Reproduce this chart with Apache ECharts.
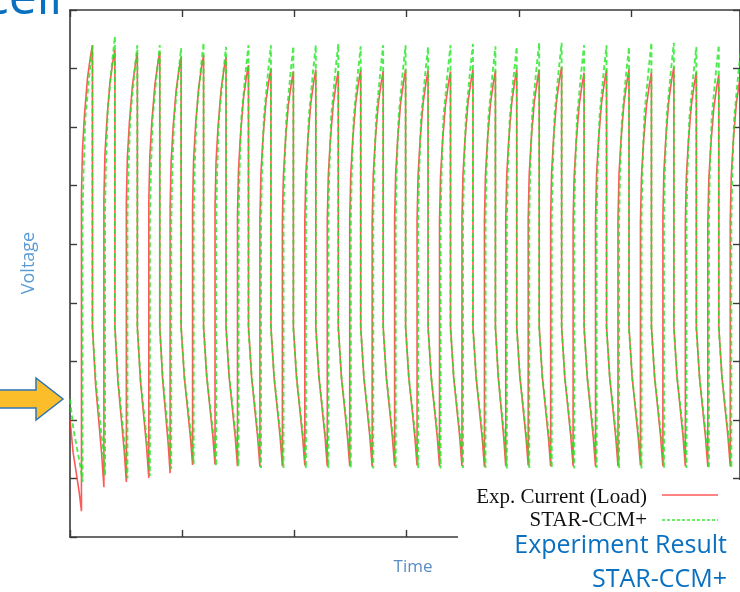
<!DOCTYPE html>
<html><head><meta charset="utf-8">
<script src="https://cdn.jsdelivr.net/npm/echarts/dist/echarts.min.js"></script>
<style>html,body{margin:0;padding:0;background:#fff}#c{width:740px;height:592px}</style>
</head><body><div id="c"></div>
<script>
// ---- data (time in x-axis units, voltage in y-axis units) ----
const peakTimes = [0.20,0.40,0.60,0.80,0.99,1.19,1.39,1.59,1.79,1.99,2.19,2.39,2.59,2.79,2.99,3.19,3.39,3.59,3.79,3.98,4.18,4.38,4.58,4.78,4.98,5.18,5.38,5.58,5.78,5.98];
const redPeaks   = [8.40,8.32,8.27,8.28,8.20,8.23,8.20,8.06,8.00,7.95,7.98,7.96,7.98,7.95,7.98,7.97,7.95,7.98,7.96,7.98,7.98,8.03,7.93,7.98,7.98,7.93,8.03,7.94,7.89,7.95];
const greenPeaks = [8.40,8.55,8.40,8.40,8.35,8.44,8.37,8.40,8.40,8.38,8.40,8.42,8.38,8.40,8.40,8.37,8.40,8.42,8.38,8.37,8.44,8.44,8.40,8.40,8.37,8.44,8.44,8.37,8.40,8.38];
// minimum reached before each rise (first entry: before the first pulse)
const redMins    = [0.44,0.85,0.94,1.01,1.09,1.23,1.24,1.21,1.20,1.21,1.22,1.21,1.21,1.20,1.21,1.22,1.21,1.21,1.20,1.21,1.22,1.21,1.21,1.20,1.21,1.22,1.21,1.21,1.20,1.21];
const greenMins  = [0.94,1.05,1.00,1.04,1.16,1.25,1.21,1.21,1.18,1.18,1.17,1.18,1.18,1.17,1.18,1.18,1.17,1.18,1.18,1.17,1.18,1.18,1.17,1.18,1.18,1.17,1.18,1.18,1.17,1.18];
const redStart = 2.01, greenStart = 2.35;
const redDropBottom = 3.60, greenDropBottom = 3.55;
const redRiseLead = 0.098, greenRiseLead = 0.088;
// shape of the rising branch: [time before peak, voltage below peak]
const redRiseShape   = [[-0.098,2.56],[-0.089,1.79],[-0.071,1.19],[-0.044,0.56],[-0.018,0.20],[0,0]];
const greenRiseShape = [[-0.088,2.98],[-0.080,2.18],[-0.063,1.23],[-0.024,0.43],[0,0]];
// shape of the relaxing branch: [fraction of the interval, fraction of the way to the minimum]
const decayShape = [[0.27,0.36],[0.53,0.57],[0.80,0.79]];

function build(start, mins, peaks, riseShape, dropBottom, lead) {
  const pts = [[0, start]];
  const t0 = peakTimes[0] - lead;
  decayShape.forEach(([d, f]) => pts.push([d * t0, start + f * (mins[0] - start)]));
  pts.push([t0, mins[0]]);
  for (let k = 0; k < peakTimes.length; k++) {
    const tp = peakTimes[k];
    riseShape.forEach(([d, o]) => pts.push([tp + d, peaks[k] - o]));
    if (k + 1 < peakTimes.length) {
      const tn = peakTimes[k + 1] - lead;
      pts.push([tp, dropBottom]);
      decayShape.forEach(([d, f]) => pts.push([tp + d * (tn - tp), dropBottom + f * (mins[k + 1] - dropBottom)]));
      pts.push([tn, mins[k + 1]]);
    }
  }
  return pts;
}

const chart = echarts.init(document.getElementById('c'), null, {renderer: 'canvas'});
const axisCommon = {
  type: 'value', min: 0, interval: 1,
  axisLine: {show: true, onZero: false, lineStyle: {color: '#3a3a3a', width: 1.6}},
  axisTick: {show: true, inside: true, length: 7, lineStyle: {color: '#3a3a3a', width: 1.4}},
  axisLabel: {show: false}, splitLine: {show: false}
};
chart.setOption({
  animation: false,
  backgroundColor: '#fff',
  grid: {left: 70, top: 10, width: 671.5, height: 527},
  xAxis: [
    Object.assign({}, axisCommon, {max: 5.969, position: 'bottom'}),
    Object.assign({}, axisCommon, {max: 5.969, position: 'top'})
  ],
  yAxis: [
    Object.assign({}, axisCommon, {max: 9, position: 'left'}),
    Object.assign({}, axisCommon, {max: 9, position: 'right'})
  ],
  series: [
    {type: 'line', name: 'Exp. Current (Load)', showSymbol: false, clip: true,
     data: build(redStart, redMins, redPeaks, redRiseShape, redDropBottom, redRiseLead),
     lineStyle: {color: '#ff3030', width: 1.6, opacity: 0.8}, z: 2},
    {type: 'line', name: 'STAR-CCM+', showSymbol: false, clip: true,
     data: build(greenStart, greenMins, greenPeaks, greenRiseShape, greenDropBottom, greenRiseLead),
     lineStyle: {color: '#22e622', width: 1.9, type: [5, 3], opacity: 0.8}, z: 3}
  ],
  graphic: [
    {type: 'rect', shape: {x: 458, y: 480, width: 290, height: 120}, style: {fill: '#fff'}, z: 100},
    {type: 'text', x: 647, y: 497, style: {text: 'Exp. Current (Load)', font: '21px "Liberation Serif"', fill: '#111', textAlign: 'right', textVerticalAlign: 'middle'}, z: 101},
    {type: 'text', x: 647, y: 520, style: {text: 'STAR-CCM+', font: '21px "Liberation Serif"', fill: '#111', textAlign: 'right', textVerticalAlign: 'middle'}, z: 101},
    {type: 'line', shape: {x1: 662, y1: 495, x2: 718, y2: 495}, style: {stroke: '#ff5a5a', lineWidth: 1.4}, z: 101},
    {type: 'line', shape: {x1: 662, y1: 520, x2: 718, y2: 520}, style: {stroke: '#3ae63a', lineWidth: 1.6, lineDash: [3, 2]}, z: 101},
    {type: 'text', x: 727, y: 546, style: {text: 'Experiment Result', font: '25px "Open Sans"', fill: '#0a70c0', textAlign: 'right', textVerticalAlign: 'middle'}, z: 101},
    {type: 'text', x: 727, y: 580, style: {text: 'STAR-CCM+', font: '25px "Open Sans"', fill: '#0a70c0', textAlign: 'right', textVerticalAlign: 'middle'}, z: 101},
    {type: 'text', x: 413, y: 567, style: {text: 'Time', font: '17px "Open Sans"', fill: '#5a8cc4', textAlign: 'center', textVerticalAlign: 'middle'}, z: 101},
    {type: 'text', x: 29, y: 263, rotation: Math.PI / 2, style: {text: 'Voltage', font: '18px "Open Sans"', fill: '#5b9bd5', textAlign: 'center', textVerticalAlign: 'middle'}, z: 101},
    {type: 'polygon', shape: {points: [[-4, 390], [36, 390], [36, 378], [63, 399], [36, 420], [36, 408], [-4, 408]]}, style: {fill: '#fbbd2a', stroke: '#2e75b6', lineWidth: 1.5}, z: 101},
    {type: 'text', x: 62, y: 25, style: {text: 'cell', font: '50px "Open Sans"', fill: '#0a70c0', textAlign: 'right', textVerticalAlign: 'bottom'}, z: 101}
  ]
});
</script></body></html>
